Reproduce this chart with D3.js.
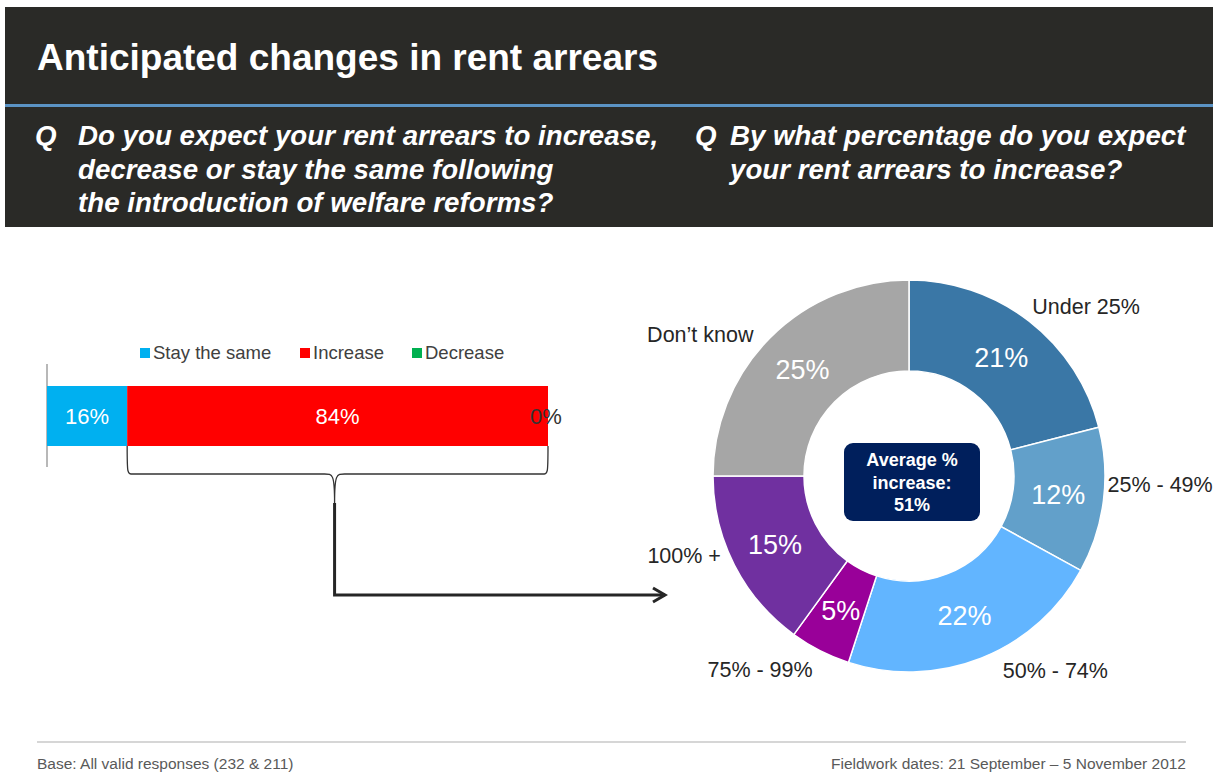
<!DOCTYPE html>
<html>
<head>
<meta charset="utf-8">
<script src="https://cdn.jsdelivr.net/npm/d3@7"></script>
<style>
  body { margin: 0; background: #fff; }
  svg { display: block; font-family: "Liberation Sans", Arial, sans-serif; }
</style>
</head>
<body>
<div id="chart"></div>
<script>
// bar chart: expectation of change
const barCategories = ["Stay the same", "Increase", "Decrease"];
const barValues = [16, 84, 0];

// donut: expected percentage increase
const donutCategories = ["Under 25%", "25% - 49%", "50% - 74%", "75% - 99%", "100% +", "Don\u2019t know"];
const donutValues = [21, 12, 22, 5, 15, 25];
const averageIncrease = 51;

const width = 1213, height = 778;

const svg = d3.select("#chart")
    .append("svg")
    .attr("width", width)
    .attr("height", height);

// header block
svg.append("rect")
    .attr("x", 5).attr("y", 7)
    .attr("width", width - 5).attr("height", 220)
    .style("fill", "#2a2a27");

svg.append("rect")
    .attr("x", 5).attr("y", 104)
    .attr("width", width - 5).attr("height", 3)
    .style("fill", "#5b93c4");

svg.append("text")
    .attr("x", 37).attr("y", 70)
    .style("font-size", "37px")
    .style("font-weight", "bold")
    .style("fill", "#fff")
    .text("Anticipated changes in rent arrears");

const q1 = ["Do you expect your rent arrears to increase,",
            "decrease or stay the same following",
            "the introduction of welfare reforms?"];
const q2 = ["By what percentage do you expect",
            "your rent arrears to increase?"];

function question(x, gap, lines) {
    const g = svg.append("g")
        .style("font-size", "27.7px")
        .style("font-weight", "bold")
        .style("font-style", "italic")
        .style("fill", "#fff");
    g.append("text").attr("x", x).attr("y", 145).text("Q");
    lines.forEach((l, i) => {
        g.append("text")
            .attr("x", x + gap)
            .attr("y", 145 + i * 33.5)
            .text(l);
    });
}
question(35, 43, q1);
question(695, 35, q2);

// ---------- stacked bar ----------
const barColor = d3.scaleOrdinal()
    .domain(barCategories)
    .range(["#00b0f0", "#ff0000", "#00b050"]);

const x = d3.scaleLinear().domain([0, 100]).range([47, 548]);
const barY = 386, barH = 60;

const row = {};
barCategories.forEach((c, i) => row[c] = barValues[i]);
const stacked = d3.stack().keys(barCategories)([row]);

// axis line
svg.append("line")
    .attr("x1", x(0)).attr("x2", x(0))
    .attr("y1", 364).attr("y2", 467)
    .style("stroke", "#a0a0a0")
    .style("stroke-width", 1.5);

svg.selectAll(".seg")
    .data(stacked)
    .enter().append("rect")
    .attr("class", "seg")
    .attr("x", d => x(d[0][0]))
    .attr("y", barY)
    .attr("width", d => x(d[0][1]) - x(d[0][0]))
    .attr("height", barH)
    .style("fill", d => barColor(d.key));

svg.selectAll(".seglabel")
    .data(stacked)
    .enter().append("text")
    .attr("class", "seglabel")
    .attr("x", d => (x(d[0][0]) + x(d[0][1])) / 2 - (d[0][1] === d[0][0] ? 2 : 0))
    .attr("y", barY + barH / 2)
    .attr("dy", "0.35em")
    .attr("text-anchor", "middle")
    .style("font-size", "22px")
    .style("fill", d => d[0][1] === d[0][0] ? "#333" : "#fff")
    .text(d => `${d[0].data[d.key]}%`);

// legend
const legendX = [140, 300, 412];
const legend = svg.selectAll(".legend")
    .data(barCategories)
    .enter().append("g")
    .attr("class", "legend")
    .attr("transform", (d, i) => `translate(${legendX[i]},348)`);
legend.append("rect")
    .attr("width", 10).attr("height", 10)
    .style("fill", d => barColor(d));
legend.append("text")
    .attr("x", 13).attr("y", 5)
    .attr("dy", "0.35em")
    .style("font-size", "18.5px")
    .style("fill", "#404040")
    .text(d => d);

// brace under the "Increase" + "Decrease" part
const bx0 = x(barValues[0]), bx1 = x(100), bmid = (bx0 + bx1) / 2 - 3;
const bTop = barY + barH, bLine = 474, bTip = 503;
svg.append("path")
    .attr("d", `M${bx0},${bTop} C${bx0},${bLine} ${bx0},${bLine} ${bx0 + 6},${bLine}
                L${bmid - 10},${bLine} C${bmid - 2},${bLine} ${bmid},${bLine} ${bmid},${bTip}
                C${bmid},${bLine} ${bmid + 2},${bLine} ${bmid + 10},${bLine}
                L${bx1 - 6},${bLine} C${bx1},${bLine} ${bx1},${bLine} ${bx1},${bTop}`)
    .style("fill", "none")
    .style("stroke", "#333")
    .style("stroke-width", 1.3);

// elbow arrow to donut
const arrowY = 595, arrowEnd = 665;
svg.append("path")
    .attr("d", `M${bmid},${bTip} L${bmid},${arrowY} L${arrowEnd},${arrowY}`)
    .style("fill", "none")
    .style("stroke", "#262626")
    .style("stroke-width", 3);
svg.append("path")
    .attr("d", `M${arrowEnd - 12},${arrowY - 7} L${arrowEnd},${arrowY} L${arrowEnd - 12},${arrowY + 7}`)
    .style("fill", "none")
    .style("stroke", "#262626")
    .style("stroke-width", 3);

// ---------- donut ----------
const cx = 909, cy = 476, outerR = 196, innerR = 105;
const donutColor = d3.scaleOrdinal()
    .domain(donutCategories)
    .range(["#3a77a6", "#62a0ca", "#62b5ff", "#990099", "#7030a0", "#a6a6a6"]);

const pie = d3.pie().sort(null).value(d => d.value);
const arc = d3.arc().innerRadius(innerR).outerRadius(outerR);
const labelArc = d3.arc().innerRadius(240).outerRadius(240);

const donutData = donutCategories.map((c, i) => ({ label: c, value: donutValues[i] }));

const dg = svg.append("g").attr("transform", `translate(${cx},${cy})`);

const slices = dg.selectAll(".arc")
    .data(pie(donutData))
    .enter().append("g")
    .attr("class", "arc");

slices.append("path")
    .attr("d", arc)
    .style("fill", d => donutColor(d.data.label))
    .style("stroke", "#fff")
    .style("stroke-width", 1.5);

slices.append("text")
    .attr("transform", d => `translate(${arc.centroid(d)})`)
    .attr("dy", "0.35em")
    .attr("text-anchor", "middle")
    .style("font-size", "27px")
    .style("fill", "#fff")
    .text(d => `${d.data.value}%`);

// outside labels, nudged like the hand-placed originals
const labelNudge = [[30, 20], [13, -22], [58, -29], [-40, -20], [-11, -29], [-39, 28]];
slices.append("text")
    .attr("transform", (d, i) => {
        const p = labelArc.centroid(d);
        return `translate(${p[0] + labelNudge[i][0]},${p[1] + labelNudge[i][1]})`;
    })
    .attr("dy", "0.35em")
    .attr("text-anchor", "middle")
    .style("font-size", "21.5px")
    .style("fill", "#262626")
    .text(d => d.data.label);

// centre box
dg.append("rect")
    .attr("x", -65).attr("y", -33)
    .attr("width", 136).attr("height", 78)
    .attr("rx", 9)
    .style("fill", "#001f5c");
["Average %", "increase:", `${averageIncrease}%`].forEach((t, i) => {
    dg.append("text")
        .attr("x", 3)
        .attr("y", -16 + i * 22.5)
        .attr("dy", "0.35em")
        .attr("text-anchor", "middle")
        .style("font-size", "18px")
        .style("font-weight", "bold")
        .style("fill", "#fff")
        .text(t);
});

// ---------- footer ----------
svg.append("line")
    .attr("x1", 37).attr("x2", 1186)
    .attr("y1", 742).attr("y2", 742)
    .style("stroke", "#c8c8c8")
    .style("stroke-width", 1.5);
svg.append("text")
    .attr("x", 37).attr("y", 769)
    .style("font-size", "15.5px")
    .style("fill", "#595959")
    .text("Base: All valid responses (232 & 211)");
svg.append("text")
    .attr("x", 1186).attr("y", 769)
    .attr("text-anchor", "end")
    .style("font-size", "15.5px")
    .style("fill", "#595959")
    .text("Fieldwork dates: 21 September \u2013 5 November 2012");
</script>
</body>
</html>
